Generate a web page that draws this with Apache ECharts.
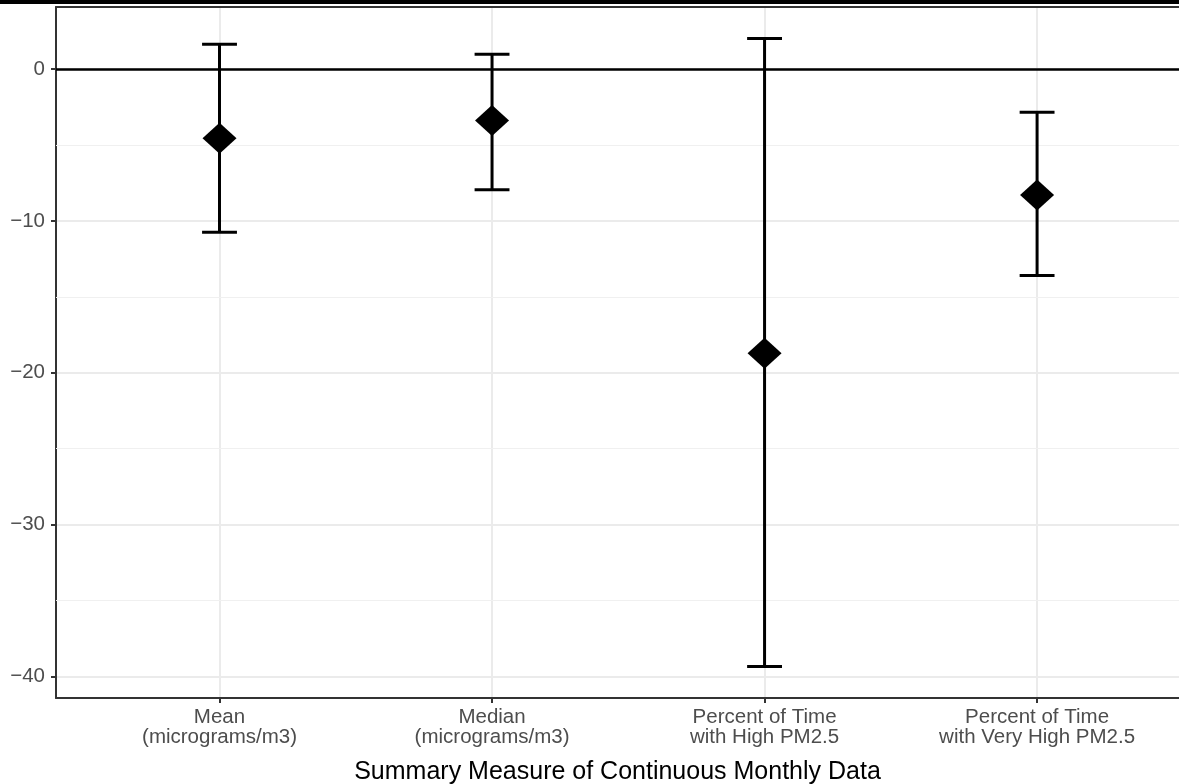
<!DOCTYPE html>
<html>
<head>
<meta charset="utf-8">
<script src="https://cdn.jsdelivr.net/npm/echarts@6/dist/echarts.min.js"></script>
<style>
html,body{margin:0;padding:0;background:#fff;}
#chart{width:1179px;height:784px;}
</style>
</head>
<body>
<div id="chart"></div>
<script>
// ---- data ----
const categories = ['Mean\n(micrograms/m3)', 'Median\n(micrograms/m3)', 'Percent of Time\nwith High PM2.5', 'Percent of Time\nwith Very High PM2.5'];
const estimates = [-4.56, -3.39, -18.71, -8.3];
const lowerCI = [-10.75, -7.94, -39.35, -13.6];
const upperCI = [1.64, 0.98, 2.02, -2.85];
const yTicks = [-40, -30, -20, -10, 0];
const yMinorBreaks = [-35, -25, -15, -5];
const xTitle = 'Summary Measure of Continuous Monthly Data';

// ---- derived ----
const xIdx = categories.map((_, i) => i);
const dLo = Math.min(...lowerCI), dHi = Math.max(...upperCI);
const pad = 0.05 * (dHi - dLo);
const yMin = dLo - pad, yMax = dHi + pad;
const capHalf = 0.064;
// discrete axis expanded by 0.6 each side; panel is cropped on the right by the page edge
const xMin = -0.6, xMaxFull = categories.length - 1 + 0.6;
const gridLeft = 56, fullRight = 1200.6, pageW = 1179;
const xMax = xMin + (xMaxFull - xMin) * (pageW - gridLeft) / (fullRight - gridLeft);

const chart = echarts.init(document.getElementById('chart'));
const font = '"Liberation Sans", Arial, Helvetica, sans-serif';
const borderLine = { show: true, onZero: false, lineStyle: { color: '#333', width: 2 } };

chart.setOption({
  animation: false,
  backgroundColor: '#ffffff',
  graphic: [{
    type: 'rect', left: 0, top: 0, z: 100,
    shape: { width: 1179, height: 4 },
    style: { fill: '#000' }
  }],
  grid: { left: gridLeft, top: 7, bottom: 86, right: 0, show: false, outerBoundsMode: 'none', containLabel: false },
  xAxis: [{
    type: 'value', min: xMin, max: xMax, position: 'bottom',
    name: xTitle, nameLocation: 'middle', nameGap: 62,
    nameTextStyle: { color: '#000', fontSize: 25, fontFamily: font },
    axisLine: borderLine,
    axisTick: { show: true, customValues: xIdx, length: 5, lineStyle: { color: '#333', width: 2 } },
    axisLabel: {
      customValues: xIdx, margin: 9, color: '#4d4d4d', fontSize: 20.5, lineHeight: 20.5, fontFamily: font,
      formatter: v => categories[Math.round(v)] || ''
    },
    splitLine: { show: true, lineStyle: { color: '#ebebeb', width: 2 } }
  }, {
    type: 'value', min: xMin, max: xMax, position: 'top',
    axisLine: borderLine, axisTick: { show: false }, axisLabel: { show: false }, splitLine: { show: false }
  }],
  yAxis: {
    type: 'value', min: yMin, max: yMax,
    axisLine: borderLine,
    axisTick: { show: true, customValues: yTicks, length: 5, lineStyle: { color: '#333', width: 2 } },
    axisLabel: {
      customValues: yTicks, margin: 11, color: '#4d4d4d', fontSize: 20.5, fontFamily: font,
      formatter: v => (v < 0 ? '\u2212' + Math.abs(v) : String(v))
    },
    splitLine: { show: true, lineStyle: { color: '#ebebeb', width: 2 } }
  },
  series: [
    {
      name: 'minor', type: 'line', data: [], z: 1, silent: true,
      markLine: {
        z: 1, silent: true, symbol: 'none', label: { show: false }, animation: false,
        lineStyle: { color: '#f0f0f0', width: 1.2, type: 'solid' },
        data: yMinorBreaks.map(v => ({ yAxis: v }))
      }
    },
    {
      name: 'zero', type: 'line', data: [], z: 2, silent: true,
      markLine: {
        z: 2, silent: true, symbol: 'none', label: { show: false }, animation: false,
        lineStyle: { color: '#000', width: 2.6, type: 'solid' },
        data: [{ yAxis: 0 }]
      }
    },
    {
      name: 'ci', type: 'custom', z: 3,
      data: xIdx.map(i => [i, lowerCI[i], upperCI[i]]),
      renderItem: function (params, api) {
        const x = api.value(0), lo = api.value(1), hi = api.value(2);
        const top = api.coord([x, hi]), bot = api.coord([x, lo]);
        const tl = api.coord([x - capHalf, hi]), tr = api.coord([x + capHalf, hi]);
        const bl = api.coord([x - capHalf, lo]), br = api.coord([x + capHalf, lo]);
        const st = { stroke: '#000', lineWidth: 3 };
        return {
          type: 'group',
          children: [
            { type: 'line', shape: { x1: top[0], y1: top[1], x2: bot[0], y2: bot[1] }, style: st },
            { type: 'line', shape: { x1: tl[0], y1: tl[1], x2: tr[0], y2: tr[1] }, style: st },
            { type: 'line', shape: { x1: bl[0], y1: bl[1], x2: br[0], y2: br[1] }, style: st }
          ]
        };
      }
    },
    {
      name: 'est', type: 'scatter', z: 4,
      symbol: 'diamond', symbolSize: [34, 31],
      itemStyle: { color: '#000', opacity: 1 },
      data: xIdx.map(i => [i, estimates[i]])
    }
  ]
});
</script>
</body>
</html>
